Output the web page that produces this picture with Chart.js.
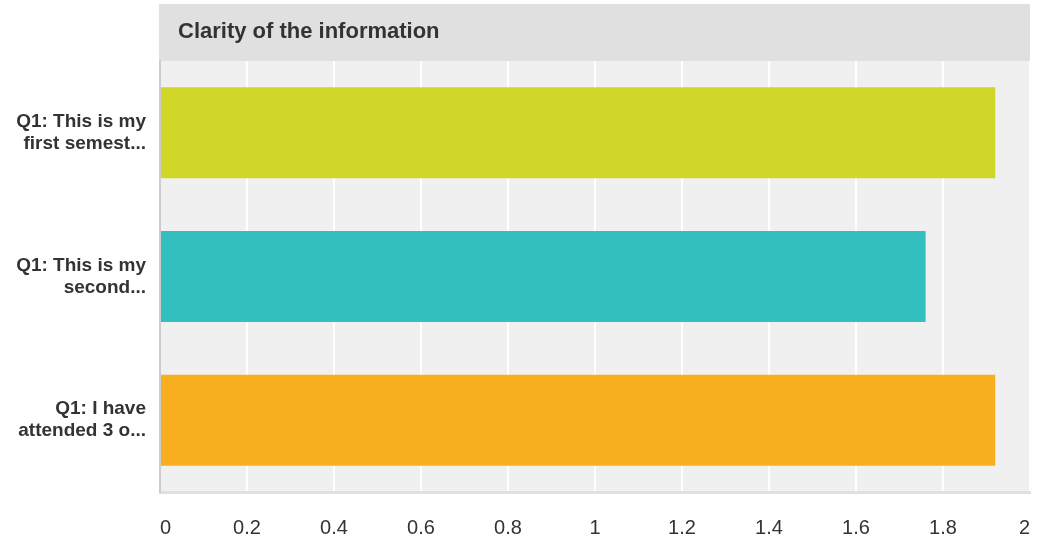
<!DOCTYPE html>
<html>
<head>
<meta charset="utf-8">
<style>
  html, body { margin: 0; padding: 0; background: #fff; }
  #wrap { width: 1037px; height: 543px; }
</style>
<script src="https://cdn.jsdelivr.net/npm/chart.js@4/dist/chart.umd.min.js"></script>
</head>
<body>
<div id="wrap"><canvas id="chart"></canvas></div>
<script>
const chartTitle = "Clarity of the information";
const categories = [
  ["Q1: This is my", "first semest..."],
  ["Q1: This is my", "second..."],
  ["Q1: I have", "attended 3 o..."],
];
const values = [1.92, 1.76, 1.92];
const barColors = ["#cfd627", "#33bec0", "#f7af1f"];
const xTicks = [0, 0.2, 0.4, 0.6, 0.8, 1, 1.2, 1.4, 1.6, 1.8, 2];

const FONT = "'Liberation Sans', Arial, sans-serif";

// grey header strip + plot background
const backdrop = {
  id: "backdrop",
  beforeDraw(chart) {
    const { ctx, chartArea } = chart;
    ctx.save();
    ctx.fillStyle = "#e0e0e0";
    ctx.fillRect(159, 4, chartArea.right - 159, chartArea.top - 4);
    ctx.fillStyle = "#f0f0f0";
    ctx.fillRect(chartArea.left, chartArea.top, chartArea.right - chartArea.left, chartArea.bottom - chartArea.top);
    ctx.fillStyle = "#333333";
    ctx.font = "bold 22px " + FONT;
    ctx.textBaseline = "alphabetic";
    ctx.textAlign = "left";
    ctx.fillText(chartTitle, 178, 38);
    ctx.restore();
  },
};

new Chart(document.getElementById("chart"), {
  type: "bar",
  data: {
    labels: categories,
    datasets: [{
      data: values,
      backgroundColor: barColors,
      borderWidth: 0,
      categoryPercentage: 1,
      barPercentage: 0.633,
    }],
  },
  options: {
    indexAxis: "y",
    responsive: true,
    maintainAspectRatio: false,
    animation: false,
    layout: { padding: { top: 61, right: 7, left: 0, bottom: 0 } },
    plugins: {
      legend: { display: false },
      tooltip: { enabled: false },
    },
    scales: {
      x: {
        min: 0,
        max: 2,
        afterFit(scale) {
          scale.height = 51;
          scale.paddingLeft = 0;
          scale.paddingRight = 0;
        },
        afterBuildTicks(scale) { scale.ticks = xTicks.map(v => ({ value: v })); },
        grid: { color: "#ffffff", lineWidth: 2, drawTicks: false },
        border: { display: true, color: "#e0e0e0", width: 3 },
        ticks: {
          align: "inner",
          padding: 24,
          color: "#333333",
          font: { family: FONT, size: 20 },
          callback: v => String(v),
        },
      },
      y: {
        afterFit(scale) { scale.width = 160; },
        grid: { display: false, drawTicks: false },
        border: { display: true, color: "#cccccc", width: 2 },
        ticks: {
          padding: 14,
          color: "#333333",
          font: { family: FONT, size: 19, weight: "bold", lineHeight: 1.16 },
        },
      },
    },
  },
  plugins: [backdrop],
});
</script>
</body>
</html>
